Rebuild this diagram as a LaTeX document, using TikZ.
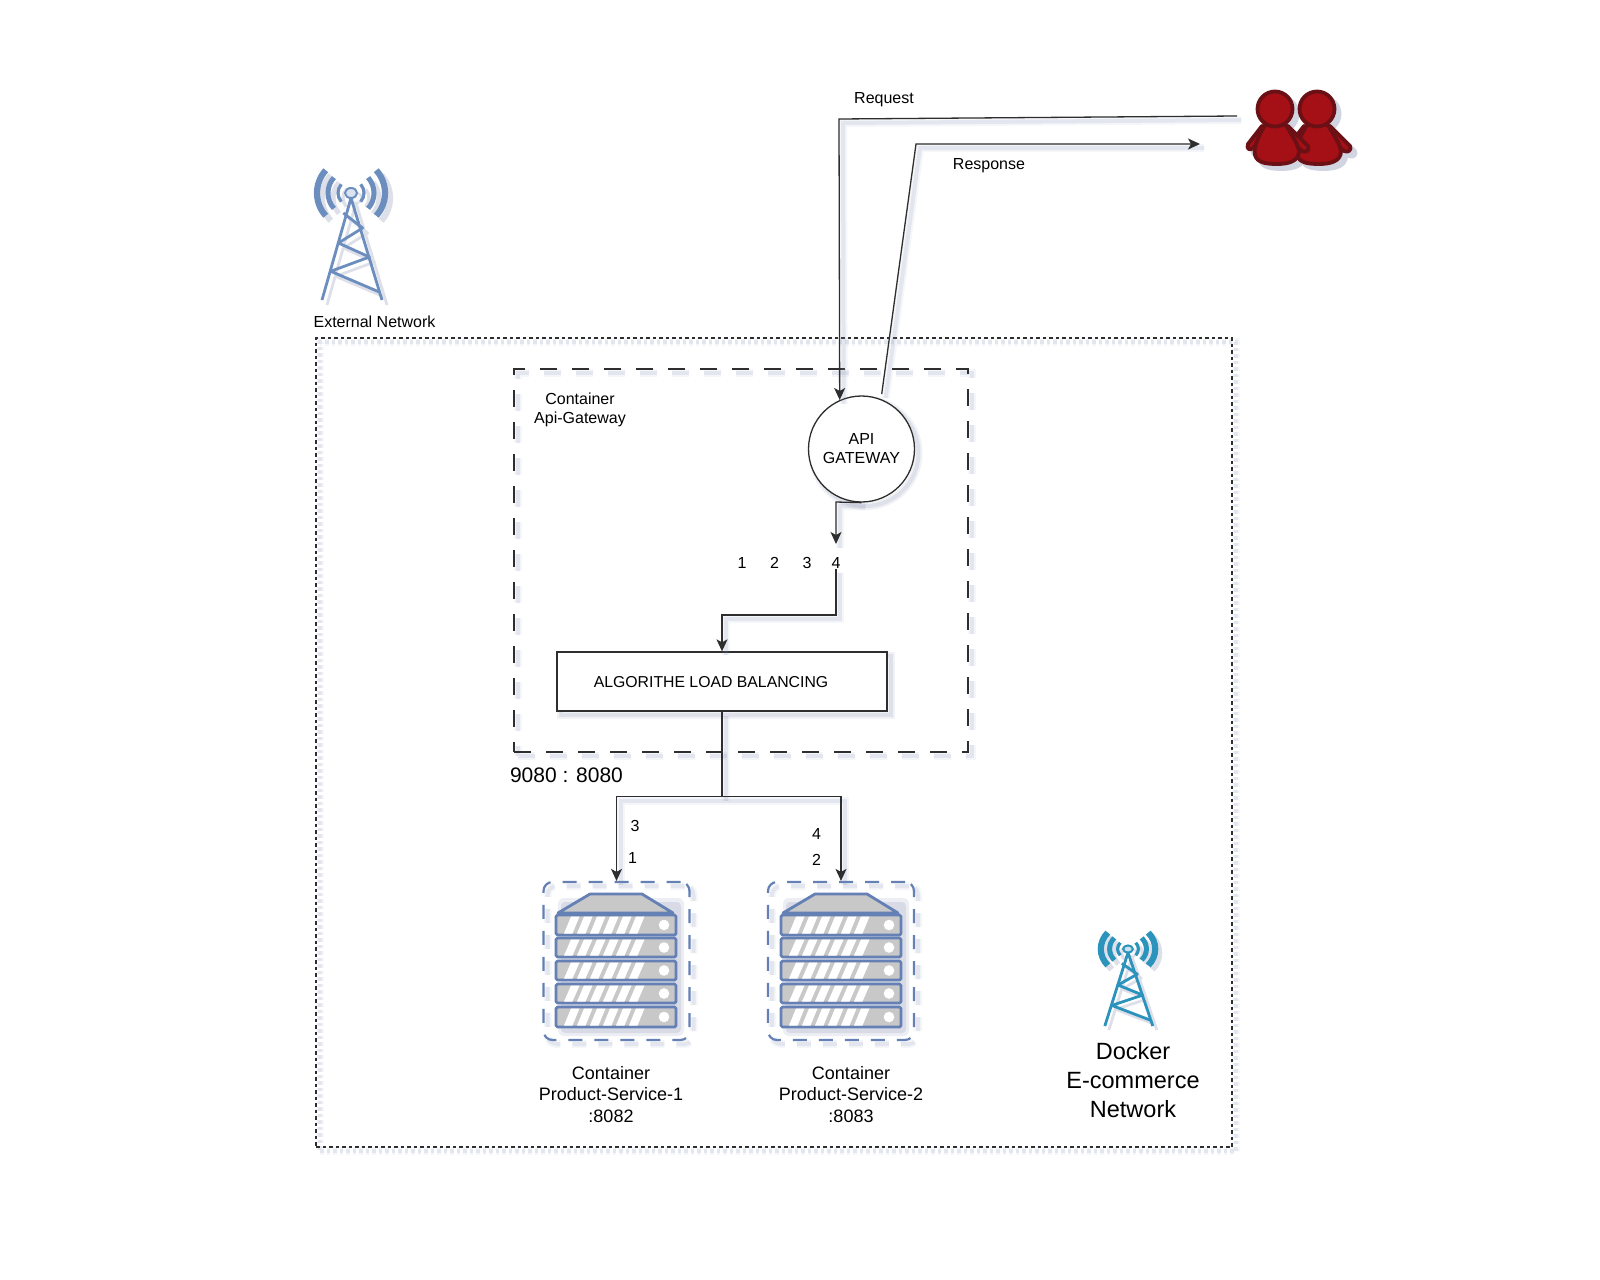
\documentclass[tikz,border=0pt]{standalone}
\usepackage{fontspec}
\setmainfont{Liberation Sans}
\usetikzlibrary{arrows.meta}
\definecolor{towerblue}{HTML}{6C8EBF}
\definecolor{towerteal}{HTML}{2B93BC}
\definecolor{srvline}{HTML}{6480B4}
\definecolor{srvfill}{HTML}{C8C8C8}
\definecolor{redfill}{HTML}{A50F16}
\definecolor{redline}{HTML}{6B1014}
\definecolor{shadowc}{HTML}{7C86AC}
\definecolor{inkc}{HTML}{2E2E2E}
\colorlet{towershade}{shadowc!26}
\colorlet{redshade}{shadowc!35}
\newcommand{\towerdraw}[6]{%
  \begin{scope}[shift={(#1,#2)},xscale=#3,yscale=#4,draw=#6,line cap=butt]
    \foreach \r/\w in {13/3.2,23/5,34/6.2}{
      \draw[line width=\w pt] (-42:\r*#5) arc[start angle=-42,end angle=42,radius=\r*#5];
      \draw[line width=\w pt] (138:\r*#5) arc[start angle=138,end angle=222,radius=\r*#5];
    }
    \draw[line width=2.8pt,line join=round] (-29,107) -- (0,5) -- (31,107);
    \draw[line width=2.8pt,line join=round] (-7.7,20) -- (11.6,35) -- (-12.6,50) -- (18.4,64) -- (-20.3,78.3) -- (29,99.3);
    \draw[line width=2pt,fill=#6!25] (0,0) ellipse[x radius=6,y radius=5];
  \end{scope}}
\newcommand{\personshape}[4]{%
  \begin{scope}[shift={(#1,#2)},draw=#3,fill=#4,line width=3.8pt,line join=round]
    \filldraw (-13,17) -- (-27,35) .. controls (-29,40) and (-25,42) .. (-22,39) -- (-8,25) -- cycle;
    \filldraw (13,17) -- (33,37) .. controls (35,41) and (31,44) .. (27,42) -- (8,25) -- cycle;
    \filldraw (-10,16) .. controls (-16,26) and (-22,38) .. (-20,46)
       .. controls (-18,54) and (-8,55) .. (2,55)
       .. controls (14,55) and (24,52) .. (24,42)
       .. controls (22,32) and (15,24) .. (11,16) -- cycle;
    \filldraw (0,0) circle[radius=17.5];
  \end{scope}}
\newcommand{\serverdraw}[1]{%
  \begin{scope}[shift={(#1,0)}]
    \fill[shadowc!14,rounded corners=6pt] (558,898) rectangle (684,1036);
    \fill[shadowc!30,rounded corners=4pt] (561,902) rectangle (681,1033);
  \end{scope}
  \begin{scope}[shift={(#1,0)},draw=srvline,line width=2.8pt,line join=round]
    \filldraw[fill=srvfill] (558,913) -- (590,894) -- (642,894) -- (673,913) -- cycle;
    \foreach \t/\b in {915/935,938/957,961/980,984/1003,1007/1027}{
      \filldraw[fill=srvfill,rounded corners=1.5pt] (556,\t) rectangle (676,\b);
      \foreach \k in {0,1,2,3,4,5}
        \fill[white] ({564+13*\k},\b-1.5) -- ({572.5+13*\k},\b-1.5) -- ({579.5+13*\k},\t+1.5) -- ({571+13*\k},\t+1.5) -- cycle;
      \fill[white] (664,{(\t+\b)/2}) circle[radius=5.3];
    }
  \end{scope}}
\tikzset{
  softshadow/.style={
    preaction={draw=shadowc,draw opacity=.10,line width=8pt,arrows=-,solid,transform canvas={shift={(4pt,-4pt)}}},
    preaction={draw=shadowc,draw opacity=.16,line width=4pt,arrows=-,solid,transform canvas={shift={(4pt,-4pt)}}}},
  lineshadow/.style={
    preaction={draw=shadowc,draw opacity=.07,line width=8pt,arrows=-,transform canvas={shift={(4pt,-4pt)}}},
    preaction={draw=shadowc,draw opacity=.14,line width=4pt,arrows=-,transform canvas={shift={(4pt,-4pt)}}}},
  lbl/.style={font=\fontsize{16}{19}\selectfont,align=center,inner sep=0pt,text=black},
  biglbl/.style={font=\fontsize{23.5}{28.6}\selectfont,align=center,inner sep=0pt,text=black},
  plainline/.style={draw=inkc,line width=1.3pt,lineshadow},
  arrowline/.style={plainline,-{Stealth[length=12pt,width=11pt,inset=3pt]}},
  netbox/.style={draw=inkc,line width=1.2pt,dash pattern=on 3.5pt off 3pt,minimum width=916pt,minimum height=809pt,inner sep=0pt,lineshadow},
  ctbox/.style={draw=inkc,line width=1.3pt,dash pattern=on 17pt off 15pt,minimum width=454pt,minimum height=383pt,inner sep=0pt,lineshadow},
  srvbox/.style={draw=srvline,line width=2.2pt,dash pattern=on 14pt off 12pt,rounded corners=9pt,minimum width=146pt,minimum height=158pt,inner sep=0pt,lineshadow},
  apicircle/.style={circle,draw=inkc,line width=1.3pt,fill=white,minimum size=106pt,inner sep=0pt,softshadow},
  lbbox/.style={rectangle,draw=inkc,line width=1.3pt,fill=white,minimum width=330pt,minimum height=59pt,inner sep=0pt,softshadow},
}
\begin{document}
\begin{tikzpicture}[x=1pt,y=-1pt]
\useasboundingbox (0,0) rectangle (1600,1279);
\fill[white] (0,0) rectangle (1600,1279);

\node[netbox] (net) at (774,742.5) {};
\node[ctbox] (ct) at (741,560.5) {};
\node[srvbox] (srv1) at (616.5,961) {};
\node[srvbox] (srv2) at (841,961) {};

\towerdraw{356}{198}{1}{1}{1}{towershade}
\towerdraw{351}{193}{1}{1}{1}{towerblue}
\towerdraw{1132}{953}{0.8}{0.72}{1.0}{towershade}
\towerdraw{1128}{949}{0.8}{0.72}{1.0}{towerteal}
\personshape{1322}{114}{redshade}{redshade}
\personshape{1280}{114}{redshade}{redshade}
\personshape{1317}{109}{redline}{redfill}
\personshape{1275}{109}{redline}{redfill}
\serverdraw{0}
\serverdraw{225}

\node[apicircle] (api) at (861.5,449) {};
\node[lbl] (apilabel) at (861.5,449) {API\\GATEWAY};
\node[lbbox] (lb) at (722,681.5) {};
\node[lbl,font=\fontsize{15.8}{19}\selectfont] (lblabel) at (711,682) {ALGORITHE LOAD BALANCING};

\node[lbl] (req) at (884,100) {Request};
\node[lbl] (resp) at (989,166) {Response};
\node[lbl] (ext) at (374.5,322) {External Network};
\node[lbl] (ctlabel) at (580,410) {Container\\Api-Gateway};
\node[lbl] (n1) at (742,563) {1};
\node[lbl] (n2) at (774.5,563) {2};
\node[lbl] (n3) at (807,563) {3};
\node[lbl] (n4) at (836,563) {4};
\node[font=\fontsize{21}{25}\selectfont,inner sep=0pt] (port) at (566.5,775.5) {9080 : 8080};
\node[lbl] (a3) at (635,826) {3};
\node[lbl] (a1) at (632.5,857.5) {1};
\node[lbl] (b4) at (816.5,834) {4};
\node[lbl] (b2) at (816.5,860) {2};
\node[lbl,font=\fontsize{18}{21.8}\selectfont] (p1) at (611,1094.5) {Container\\Product-Service-1\\:8082};
\node[lbl,font=\fontsize{18}{21.8}\selectfont] (p2) at (851,1094.5) {Container\\Product-Service-2\\:8083};
\node[biglbl] (dock) at (1133,1080) {Docker\\E-commerce\\Network};

\coordinate (reqstart) at (1237,116);
\coordinate (reqbend) at (839,119);
\coordinate (respstart) at (881.7,394);
\coordinate (respbend) at (916,144);
\coordinate (respend) at (1200,144);
\coordinate (apibend) at (836,502);
\coordinate (bus) at (722,796.5);

\draw[arrowline] (reqstart) -- (reqbend) -- (api.114);
\draw[arrowline] (respstart) -- (respbend) -- (respend);
\draw[arrowline] (api.south) -- (apibend) -- (n4.north |- 0,544);
\draw[arrowline] (n4.south) -- (n4.south |- 0,615) -- (lb.north |- 0,615) -- (lb.north);
\draw[plainline] (lb.south) -- (bus);
\draw[arrowline] (bus) -- (srv1.north |- bus) -- (srv1.north);
\draw[arrowline] (bus) -- (srv2.north |- bus) -- (srv2.north);
\end{tikzpicture}
\end{document}
